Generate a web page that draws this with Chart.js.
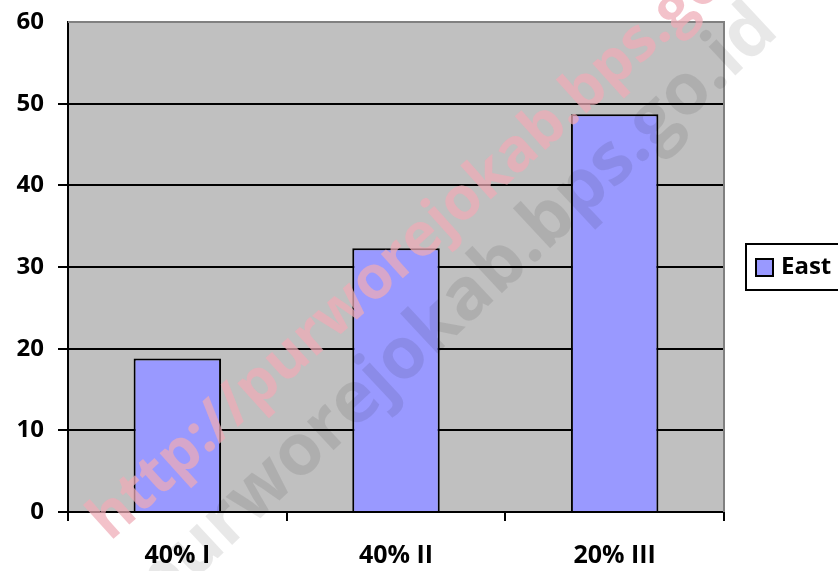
<!DOCTYPE html>
<html>
<head>
<meta charset="utf-8">
<script src="https://cdn.jsdelivr.net/npm/chart.js@4.4.1/dist/chart.umd.min.js"></script>
<style>
  html, body { margin: 0; padding: 0; background: #fff; }
  #wrap { width: 838px; height: 571px; position: relative; }
</style>
</head>
<body>
<div id="wrap"><canvas id="grafik"></canvas></div>
<script>
// kategori dan nilai
const kategori = ["40% I", "40% II", "20% III"];
const nilaiEast = [18.8, 32.3, 48.7];
const labelSeri = "East";
const tickY = [0, 10, 20, 30, 40, 50, 60];

const FONT = "'Open Sans', 'Liberation Sans', sans-serif";
const WARNA_BAR = "#9999FF";

// latar abu-abu area plot + bingkai atas/kanan
const latarPlot = {
  id: "latarPlot",
  beforeDraw(chart) {
    const { ctx, chartArea: a } = chart;
    ctx.save();
    ctx.fillStyle = "#C0C0C0";
    ctx.fillRect(a.left, a.top, a.right - a.left, a.bottom - a.top);
    ctx.restore();
  },
  afterDatasetsDraw(chart) {
    const { ctx, chartArea: a } = chart;
    ctx.save();
    ctx.strokeStyle = "#808080";
    ctx.lineWidth = 2;
    ctx.beginPath();
    ctx.moveTo(a.left, a.top);
    ctx.lineTo(a.right, a.top);
    ctx.lineTo(a.right, a.bottom);
    ctx.stroke();
    ctx.restore();
  }
};

// legenda kotak di kanan
const legendaKotak = {
  id: "legendaKotak",
  afterDraw(chart) {
    const { ctx } = chart;
    ctx.save();
    ctx.strokeStyle = "#000";
    ctx.lineWidth = 2;
    ctx.fillStyle = "#fff";
    ctx.fillRect(746, 244, 100, 46);
    ctx.strokeRect(746, 244, 100, 46);
    ctx.fillStyle = WARNA_BAR;
    ctx.fillRect(756, 259, 17, 17);
    ctx.strokeRect(756, 259, 17, 17);
    ctx.fillStyle = "#000";
    ctx.font = "bold 24px " + FONT;
    ctx.textBaseline = "middle";
    ctx.fillText(labelSeri, 781, 267);
    ctx.restore();
  }
};

// tanda air miring
const tandaAir = {
  id: "tandaAir",
  afterDraw(chart) {
    const { ctx } = chart;
    ctx.save();
    ctx.translate(160, 612);
    ctx.rotate(-43 * Math.PI / 180);
    ctx.font = "bold 72px " + FONT;
    ctx.fillStyle = "rgba(0,0,0,0.09)";
    ctx.fillText("purworejokab.bps.go.id", 0, 0);
    ctx.restore();

    ctx.save();
    ctx.translate(110, 542);
    ctx.rotate(-42 * Math.PI / 180);
    ctx.font = "bold 60px " + FONT;
    ctx.fillStyle = "rgba(238,170,182,0.72)";
    ctx.fillText("http://purworejokab.bps.go.id", 0, 0);
    ctx.restore();
  }
};

new Chart(document.getElementById("grafik"), {
  type: "bar",
  data: {
    labels: kategori,
    datasets: [{
      label: labelSeri,
      data: nilaiEast,
      backgroundColor: WARNA_BAR,
      borderColor: "#000",
      borderWidth: 2,
      barPercentage: 0.4,
      categoryPercentage: 1.0
    }]
  },
  options: {
    responsive: true,
    maintainAspectRatio: false,
    animation: false,
    layout: { padding: { top: 22, right: 114, left: 0, bottom: 0 } },
    plugins: {
      legend: { display: false },
      tooltip: { enabled: false }
    },
    scales: {
      x: {
        afterFit(scale) {
          scale.height = 59;
          scale.paddingLeft = 0;
          scale.paddingRight = 0;
        },
        grid: {
          offset: true,
          drawOnChartArea: false,
          drawTicks: true,
          tickLength: 9,
          color: "#000",
          lineWidth: 2
        },
        border: { color: "#000", width: 2 },
        ticks: {
          color: "#000",
          padding: 20,
          font: { family: FONT, size: 25, weight: "bold" }
        }
      },
      y: {
        min: 0,
        max: 60,
        afterFit(scale) {
          scale.width = 68;
          scale.paddingTop = 0;
          scale.paddingBottom = 0;
        },
        afterBuildTicks(scale) { scale.ticks = tickY.map(v => ({ value: v })); },
        grid: {
          drawTicks: true,
          tickLength: 10,
          color: c => (c.tick && c.tick.value === 60 ? "rgba(0,0,0,0)" : "#000"),
          lineWidth: 2
        },
        border: { color: "#000", width: 2 },
        ticks: {
          color: "#000",
          padding: 14,
          font: { family: FONT, size: 24, weight: "bold" }
        }
      }
    }
  },
  plugins: [latarPlot, legendaKotak, tandaAir]
});
</script>
</body>
</html>
